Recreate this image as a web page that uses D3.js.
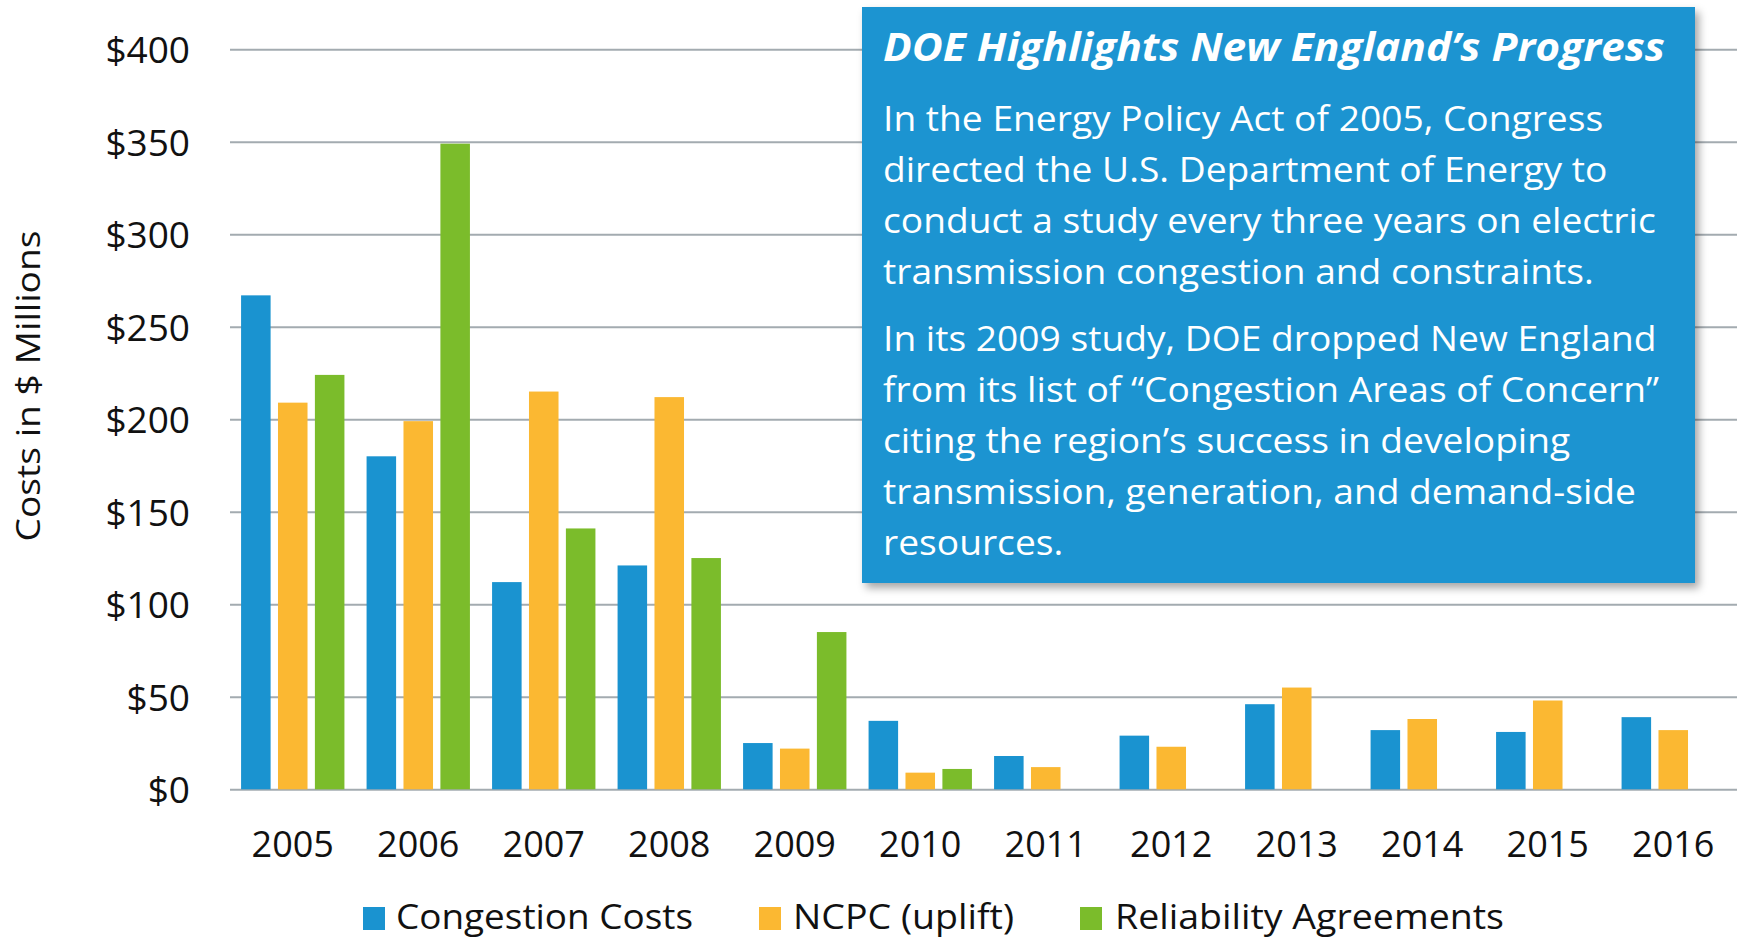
<!DOCTYPE html>
<html>
<head>
<meta charset="utf-8">
<script src="https://cdn.jsdelivr.net/npm/d3@7"></script>
<style>
  html, body { margin: 0; padding: 0; background: #ffffff; }
  svg { display: block; }
  text { font-family: "Open Sans", sans-serif; }
</style>
</head>
<body>
<script>
// ---------- data ----------
const years = ["2005","2006","2007","2008","2009","2010","2011","2012","2013","2014","2015","2016"];
const seriesNames = ["Congestion Costs", "NCPC (uplift)", "Reliability Agreements"];
const congestionCosts = [267, 180, 112, 121, 25, 37, 18, 29, 46, 32, 31, 39];
const ncpcUplift      = [209, 199, 215, 212, 22, 9, 12, 23, 55, 38, 48, 32];
const reliabilityAgreements = [224, 349, 141, 125, 85, 11, null, null, null, null, null, null];
const yTicks = [0, 50, 100, 150, 200, 250, 300, 350, 400];
const yTitle = "Costs in $ Millions";
const boxTitle = "DOE Highlights New England\u2019s Progress";
const para1 = [
  "In the Energy Policy Act of 2005, Congress",
  "directed the U.S. Department of Energy to",
  "conduct a study every three years on electric",
  "transmission congestion and constraints."
];
const para2 = [
  "In its 2009 study, DOE dropped New England",
  "from its list of \u201CCongestion Areas of Concern\u201D",
  "citing the region\u2019s success in developing",
  "transmission, generation, and demand-side",
  "resources."
];

// ---------- setup ----------
const W = 1741, H = 940;
const colors = ["#1a93d0", "#fbb832", "#7bbc2b"];
const seriesData = [congestionCosts, ncpcUplift, reliabilityAgreements];

const svg = d3.select("body").append("svg").attr("width", W).attr("height", H);
svg.append("rect").attr("width", W).attr("height", H).attr("fill", "#ffffff");

const plotLeft = 230, plotRight = 1736, plotTop = 49.3, plotBottom = 789.3;

const y = d3.scaleLinear().domain([0, 400]).range([plotBottom, plotTop]);
const x0 = d3.scaleBand().domain(years).range([plotLeft, plotRight]).padding(0);
const x1 = d3.scaleBand().domain(seriesNames).range([0, x0.bandwidth()])
  .paddingInner(0.2).paddingOuter(0.3);

// gridlines
const grid = svg.append("g").attr("transform", `translate(${plotLeft},0)`)
  .call(d3.axisLeft(y).tickValues(yTicks).tickSize(-(plotRight - plotLeft + 1)).tickFormat(""));
grid.select(".domain").remove();
grid.selectAll(".tick line").attr("stroke", "#a3abb0").attr("stroke-width", 2);

// y-axis labels
const yAxis = svg.append("g").attr("transform", `translate(190,0)`)
  .call(d3.axisLeft(y).tickValues(yTicks).tickSize(0).tickPadding(0).tickFormat(d => "$" + d));
yAxis.select(".domain").remove();
yAxis.selectAll(".tick text")
  .attr("font-family", "Open Sans, sans-serif")
  .attr("font-size", 37).attr("fill", "#111").attr("dy", "0.36em");

// bars
const groups = svg.append("g").selectAll("g").data(years).join("g")
  .attr("transform", d => `translate(${x0(d)},0)`);
groups.selectAll("rect")
  .data((yr, i) => seriesNames.map((s, k) => ({ s, k, v: seriesData[k][i] })).filter(d => d.v != null))
  .join("rect")
  .attr("x", d => x1(d.s))
  .attr("width", x1.bandwidth())
  .attr("y", d => y(d.v))
  .attr("height", d => y(0) - y(d.v))
  .attr("fill", d => colors[d.k]);

// x-axis labels
const xAxis = svg.append("g").attr("transform", `translate(0,${plotBottom})`)
  .call(d3.axisBottom(x0).tickSize(0).tickPadding(0));
xAxis.select(".domain").remove();
xAxis.selectAll(".tick text")
  .attr("font-family", "Open Sans, sans-serif")
  .attr("font-size", 36).attr("fill", "#111")
  .attr("dy", null).attr("y", 68);

// y title
svg.append("text")
  .attr("transform", "translate(40,386) rotate(-90)")
  .attr("text-anchor", "middle")
  .attr("font-size", 33).attr("fill", "#111")
  .attr("textLength", 311).attr("lengthAdjust", "spacingAndGlyphs")
  .text(yTitle);

// legend
const legendItems = [
  { sq: 363, tx: 396, w: 297 },
  { sq: 759, tx: 793, w: 221 },
  { sq: 1080, tx: 1115, w: 389 }
];
const leg = svg.append("g");
seriesNames.forEach((s, k) => {
  leg.append("rect").attr("x", legendItems[k].sq).attr("y", 907)
    .attr("width", 22).attr("height", 23).attr("fill", colors[k]);
  leg.append("text").attr("x", legendItems[k].tx).attr("y", 929)
    .attr("font-size", 34).attr("fill", "#111")
    .attr("textLength", legendItems[k].w).attr("lengthAdjust", "spacingAndGlyphs")
    .text(s);
});

// text box
const defs = svg.append("defs");
const f = defs.append("filter").attr("id", "shadow").attr("x", "-5%").attr("y", "-5%")
  .attr("width", "115%").attr("height", "115%");
f.append("feDropShadow").attr("dx", 4).attr("dy", 5).attr("stdDeviation", 4)
  .attr("flood-color", "#000").attr("flood-opacity", 0.35);

svg.append("rect").attr("x", 862).attr("y", 7).attr("width", 833).attr("height", 576)
  .attr("fill", "#1a94d1").attr("filter", "url(#shadow)");

svg.append("text").attr("x", 883).attr("y", 61)
  .attr("font-size", 39).attr("font-weight", "bold").attr("font-style", "italic")
  .attr("fill", "#fff")
  .attr("textLength", 782).attr("lengthAdjust", "spacingAndGlyphs")
  .text(boxTitle);

const bodyG = svg.append("g");
const lines = para1.map((t, i) => ({ t, yb: 131 + i * 51 }))
  .concat(para2.map((t, i) => ({ t, yb: 351 + i * 51 })));
const bodyTexts = bodyG.selectAll("text").data(lines).join("text")
  .attr("x", 0).attr("y", d => d.yb)
  .attr("font-size", 35).attr("fill", "#fff")
  .text(d => d.t);
// compress horizontally so that the reference line matches its width
const refNode = bodyTexts.nodes()[2];
const natural = refNode.getComputedTextLength();
const sx = 773 / natural;
bodyG.attr("transform", `translate(883,0) scale(${sx},1)`);
</script>
</body>
</html>
